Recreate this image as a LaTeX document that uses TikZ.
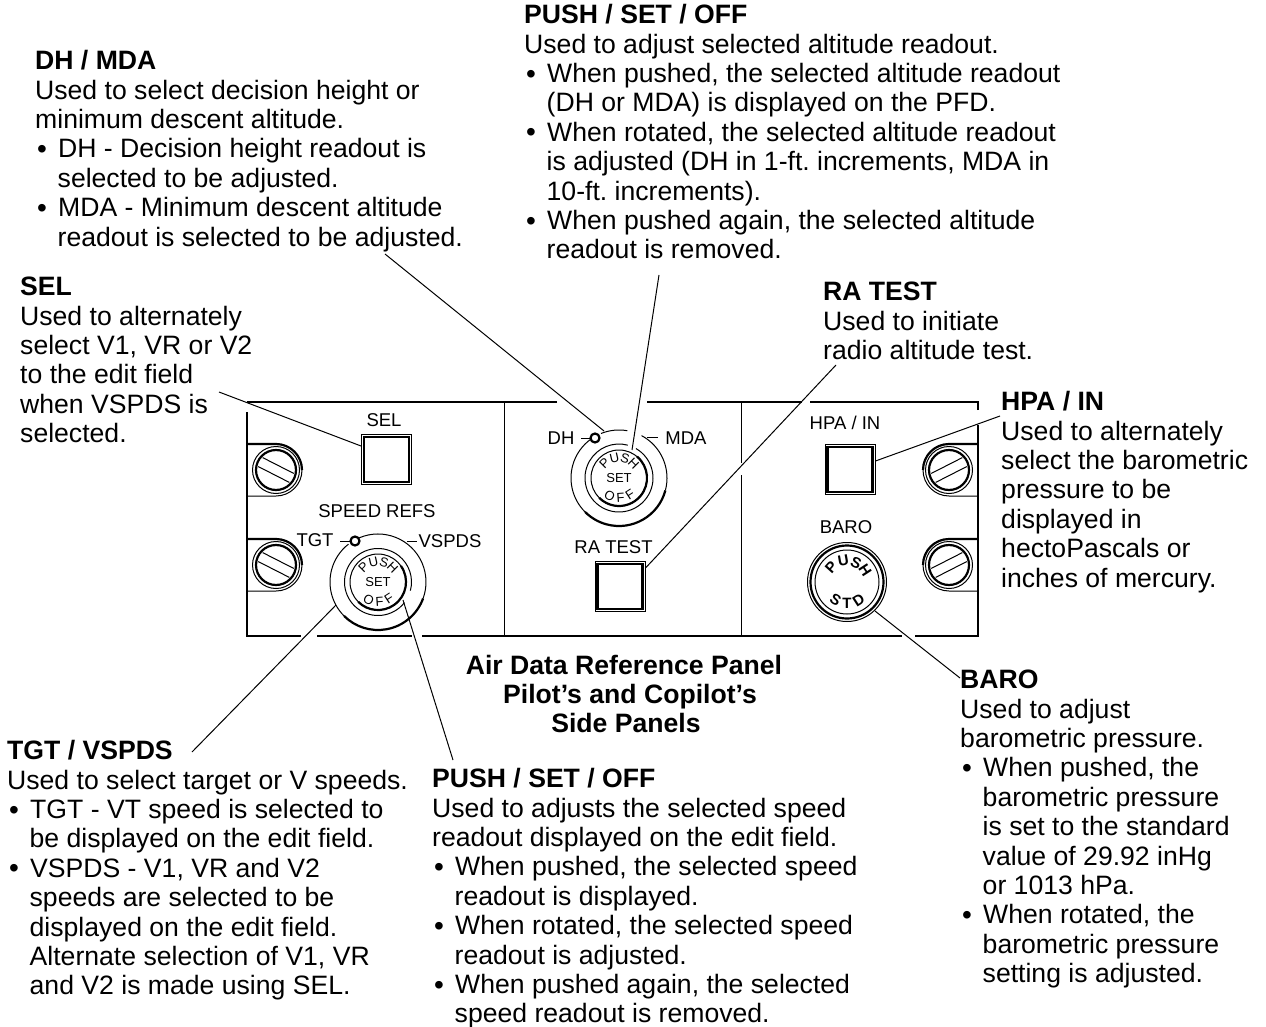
\documentclass[tikz,border=0pt]{standalone}
\usepackage{fontspec}
\setmainfont{Liberation Sans}
\usetikzlibrary{calc}
\tikzset{
  txt/.style={anchor=north west,inner sep=0pt,align=left,text=black,font=\fontsize{26.6}{29.4}\selectfont\frenchspacing},
  ttl/.style={inner sep=0pt,anchor=base,font=\fontsize{26.6}{29}\selectfont\bfseries},
  lab/.style={inner sep=0pt,font=\fontsize{18.5}{20}\selectfont},
  dial/.style={inner sep=0pt,font=\fontsize{13}{14}\selectfont},
  thinl/.style={line width=1pt},
  med/.style={line width=1.3pt},
  thk/.style={line width=2.2pt},
  leader/.style={line width=1pt}
}
\newcommand{\hd}[1]{\strut\textbf{#1}}
\newcommand{\bl}{\makebox[23pt][l]{\hspace{2pt}{\fontsize{28}{30}\selectfont\raisebox{-0.5pt}{•}}}}
\newcommand{\ct}{\hspace*{22.5pt}}
\newcommand{\ap}{\char"27 }
\newcommand{\ringarc}[6]{\draw[#1] ([shift={(#5:#4)}]#2,#3) arc[start angle=#5,end angle=#6,radius=#4];}
\newcommand{\Button}[3]{% x y name
  \node[draw,line width=1pt,minimum size=50pt,inner sep=0pt,anchor=north west] (#3) at (#1,#2) {};
  \draw[thk] ($(#3.north west)+(3,3)$) rectangle ($(#3.south east)+(-3,-3)$);}
\newcommand{\ScrewL}[2]{%
  \draw[thk] (247,#2-26) -- (#1,#2-26) arc[start angle=-90,end angle=0,radius=26];
  \draw[thinl] (247,#2+26) -- (#1,#2+26) arc[start angle=90,end angle=0,radius=26];
  \draw[thinl] (#1,#2) circle[radius=23.5];
  \draw[thk] (#1,#2) circle[radius=20];
  \begin{scope}[shift={(#1,#2)},rotate=-27]
    \draw[thinl] (-17.5,-5) -- (17.5,-5) (-17.5,5) -- (17.5,5);
  \end{scope}}
\newcommand{\ScrewR}[2]{%
  \draw[thk] (977,#2-26) -- (#1,#2-26) arc[start angle=-90,end angle=-180,radius=26];
  \draw[thinl] (977,#2+26) -- (#1,#2+26) arc[start angle=90,end angle=180,radius=26];
  \draw[thinl] (#1,#2) circle[radius=23.5];
  \draw[thk] (#1,#2) circle[radius=20];
  \begin{scope}[shift={(#1,#2)},rotate=27]
    \draw[thinl] (-17.5,-5) -- (17.5,-5) (-17.5,5) -- (17.5,5);
  \end{scope}}
\newcommand{\TopLetters}[5]{% cx cy r font list
  \foreach \a/\c [count=\i] in {#5} {
    \node[dial,#4,rotate={-(\a+90)}] (t\i) at ([shift={(\a:#3)}]#1,#2) {\c};
  }}
\newcommand{\BotLetters}[5]{%
  \foreach \a/\c [count=\i] in {#5} {
    \node[dial,#4,rotate={90-\a}] (b\i) at ([shift={(\a:#3)}]#1,#2) {\c};
  }}
\begin{document}
\begin{tikzpicture}[x=1pt,y=-1pt]
\useasboundingbox (0,0) rectangle (1266,1027);
\fill[white] (0,0) rectangle (1266,1027);

% text blocks
\node[txt] (dhmda) at (35,49) {\hd{DH / MDA}\\
Used to select decision height or\\
minimum descent altitude.\\
\bl DH - Decision height readout is\\
\ct selected to be adjusted.\\
\bl MDA - Minimum descent altitude\\
\ct readout is selected to be adjusted.};
\node[txt] (pushup) at (524,3) {\hd{PUSH / SET / OFF}\\
Used to adjust selected altitude readout.\\
\bl When pushed, the selected altitude readout\\
\ct (DH or MDA) is displayed on the PFD.\\
\bl When rotated, the selected altitude readout\\
\ct is adjusted (DH in 1-ft. increments, MDA in\\
\ct 10-ft. increments).\\
\bl When pushed again, the selected altitude\\
\ct readout is removed.};
\node[txt] (seltxt) at (20,275) {\hd{SEL}\\
Used to alternately\\
select V1, VR or V2\\
to the edit field\\
when VSPDS is\\
selected.};
\node[txt] (ratxt) at (823,280) {\hd{RA TEST}\\
Used to initiate\\
radio altitude test.};
\node[txt] (hpatxt) at (1001,390) {\hd{HPA / IN}\\
Used to alternately\\
select the barometric\\
pressure to be\\
displayed in\\
hectoPascals or\\
inches of mercury.};
\node[txt] (barotxt) at (960,668) {\hd{BARO}\\
Used to adjust\\
barometric pressure.\\
\bl When pushed, the\\
\ct barometric pressure\\
\ct is set to the standard\\
\ct value of 29.92 inHg\\
\ct or 1013 hPa.\\
\bl When rotated, the\\
\ct barometric pressure\\
\ct setting is adjusted.};
\node[txt] (tgttxt) at (7,739) {\hd{TGT / VSPDS}\\
Used to select target or V speeds.\\
\bl TGT - VT speed is selected to\\
\ct be displayed on the edit field.\\
\bl VSPDS - V1, VR and V2\\
\ct speeds are selected to be\\
\ct displayed on the edit field.\\
\ct Alternate selection of V1, VR\\
\ct and V2 is made using SEL.};
\node[txt] (pushlow) at (432,767) {\hd{PUSH / SET / OFF}\\
Used to adjusts the selected speed\\
readout displayed on the edit field.\\
\bl When pushed, the selected speed\\
\ct readout is displayed.\\
\bl When rotated, the selected speed\\
\ct readout is adjusted.\\
\bl When pushed again, the selected\\
\ct speed readout is removed.};

\node[ttl] (title1) at (624,674) {Air Data Reference Panel};
\node[ttl] (title2) at (630,703) {Pilot\ap s and Copilot\ap s};
\node[ttl] (title3) at (626,732) {Side Panels};

% panel frame with gaps
\draw[med] (247,412) -- (247,636) -- (301,636);
\draw[med] (317,636) -- (412,636) (422,636) -- (902,636) (915,636) -- (978,636) -- (978,425);
\draw[med] (978,410) -- (978,402) -- (810,402) (802,402) -- (647,402) (557,402) -- (247,402);
\draw[thinl] (504.5,402) -- (504.5,636);
\draw[thinl] (741,402) -- (741,463) (741,475) -- (741,636);

% screws
\ScrewL{276}{470}
\ScrewL{276}{565}
\ScrewR{949}{470}
\ScrewR{949}{565}

% buttons
\Button{361}{434}{selbtn}
\Button{594.5}{561}{rabtn}
\Button{824.5}{444}{hpabtn}

% panel labels
\node[lab] (lsel) at (384,420) {SEL};
\node[lab] (lspeed) at (377,511) {SPEED REFS};
\node[lab] (ltgt) at (315,540) {TGT};
\node[lab] (lvspds) at (450,541) {VSPDS};
\node[lab] (ldh) at (561,438) {DH};
\node[lab] (lmda) at (686,438) {MDA};
\node[lab] (lra) at (613.5,547) {RA TEST};
\node[lab] (lhpa) at (845,423) {HPA / IN};
\node[lab] (lbaro) at (846,527) {BARO};

% speed refs knob
\coordinate (kA) at (378,582);
\ringarc{thinl}{378}{582}{48}{135}{232}
\ringarc{thinl}{378}{582}{48}{-113}{20}
\ringarc{thk}{378}{582}{48}{20}{135}
\ringarc{thinl}{378}{582}{33.5}{38}{375}
\draw[thinl] (kA) circle[radius=28];
\ringarc{thk}{378}{582}{28}{-35}{135}
\draw[thk] (355,541) circle[radius=4.5];
\draw[thinl] (340,541) -- (350,541) (407,541) -- (417,541);
\node[dial] (setA) at (kA) {SET};
\begin{scope}
\TopLetters{378}{582}{20.5}{}{-135/P,-103/U,-73/S,-45/H}
\BotLetters{378}{582}{20}{}{118/O,86/F,57/F}
\end{scope}

% DH knob
\coordinate (kB) at (619,478);
\ringarc{thinl}{619}{478}{48}{-112}{-80}
\ringarc{thinl}{619}{478}{48}{-62}{15}
\ringarc{thk}{619}{478}{48}{15}{135}
\ringarc{thinl}{619}{478}{48}{135}{235}
\ringarc{thinl}{619}{478}{34}{-60}{285}
\draw[thinl] (kB) circle[radius=28];
\ringarc{thk}{619}{478}{28}{-50}{135}
\draw[thk] (595,438) circle[radius=4.5];
\draw[thinl] (581,438) -- (591,438) (647,437) -- (658,437);
\node[dial] (setB) at (kB) {SET};
\begin{scope}
\TopLetters{619}{478}{20.5}{}{-135/P,-103/U,-73/S,-45/H}
\BotLetters{619}{478}{20}{}{118/O,86/F,57/F}
\end{scope}

% BARO knob
\coordinate (kC) at (847,582);
\draw[thinl] (kC) circle[radius=39.5];
\draw[thk] (kC) circle[radius=36.5];
\draw[thinl] (kC) circle[radius=32];
\begin{scope}
\TopLetters{847}{582}{21.5}{font=\fontsize{15}{16}\selectfont\bfseries}{-138/P,-100/U,-65/S,-33/H}
\BotLetters{847}{582}{21.5}{font=\fontsize{15}{16}\selectfont\bfseries}{122/S,90/T,57/D}
\end{scope}

% leaders
\coordinate (fsel) at (219,392);
\coordinate (fdh) at (385,254);
\coordinate (fpu) at (659,275);
\coordinate (fra) at (836,365);
\coordinate (fhpa) at (1000,416);
\coordinate (fbaro) at (960,678);
\coordinate (ftgt) at (192,752);
\coordinate (fpl) at (453,760);
\draw[leader] (fsel) -- (selbtn.north west |- 0,446);
\draw[leader] (fdh) -- (604,431);
\draw[leader] (fpu) -- (632,450);
\draw[leader] (fra) -- (rabtn.east |- 0,568);
\draw[leader] (fhpa) -- (hpabtn.east |- 0,461);
\draw[leader] (fbaro) -- (875,611);
\draw[leader] (ftgt) -- (336,605);
\draw[leader] (fpl) -- (403,600);
\end{tikzpicture}
\end{document}
